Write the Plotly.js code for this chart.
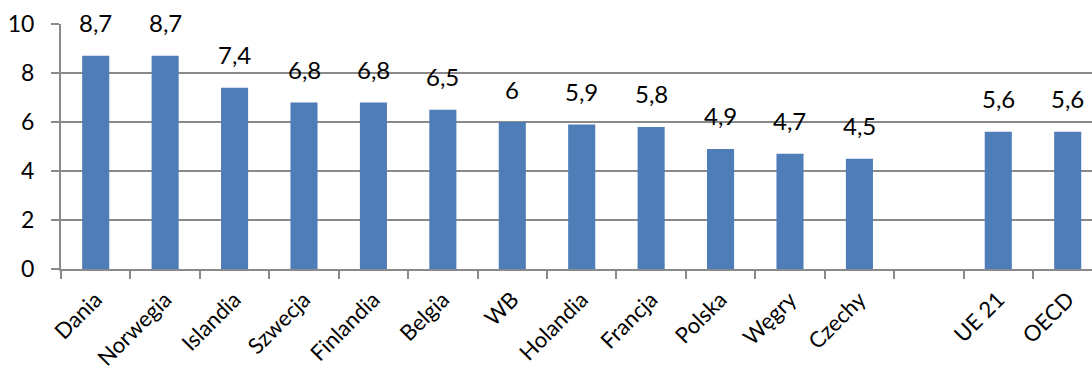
<!DOCTYPE html>
<html>
<head>
<meta charset="utf-8">
<script src="https://cdn.plot.ly/plotly-3.0.1.min.js"></script>
<style>
  html, body { margin: 0; padding: 0; background: #fff; }
  #chart { width: 1092px; height: 374px; }
</style>
</head>
<body>
<div id="chart"></div>
<script>
// Categories (a blank slot separates the countries from the averages)
const categories = ['Dania', 'Norwegia', 'Islandia', 'Szwecja', 'Finlandia', 'Belgia', 'WB',
  'Holandia', 'Francja', 'Polska', 'Węgry', 'Czechy', ' ', 'UE 21', 'OECD'];
const values = [8.7, 8.7, 7.4, 6.8, 6.8, 6.5, 6, 5.9, 5.8, 4.9, 4.7, 4.5, null, 5.6, 5.6];
const yTicks = [0, 2, 4, 6, 8, 10];

const FONT = 'Lato, Carlito, Calibri, "Open Sans", sans-serif';
const GREY = '#8a8a8a';

// Value labels, written with a decimal comma, floated above each bar
const valueLabels = [];
categories.forEach((c, i) => {
  const v = values[i];
  if (v === null) return;
  valueLabels.push({
    x: c, y: v, xref: 'x', yref: 'y',
    text: String(v).replace('.', ','),
    showarrow: false,
    yanchor: 'middle',
    yshift: 33,
    font: { family: FONT, size: 24, color: '#000' }
  });
});

const trace = {
  type: 'bar',
  x: categories,
  y: values,
  marker: { color: '#4F7DB8', line: { width: 0 } },
  width: 0.39,
  hoverinfo: 'x+y'
};

const layout = {
  width: 1092,
  height: 374,
  margin: { l: 61, r: 0, t: 24, b: 105 },
  paper_bgcolor: '#fff',
  plot_bgcolor: '#fff',
  showlegend: false,
  font: { family: FONT, size: 23, color: '#000' },
  annotations: valueLabels,
  xaxis: {
    type: 'category',
    categoryorder: 'array',
    categoryarray: categories,
    range: [-0.5, 14.35],
    tickson: 'boundaries',
    ticks: 'outside',
    ticklen: 8,
    tickwidth: 2,
    tickcolor: GREY,
    tickangle: -45,
    ticklabelstandoff: 7,
    tickfont: { family: FONT, size: 22, color: '#000' },
    showgrid: false,
    showline: true,
    linecolor: GREY,
    linewidth: 2,
    zeroline: false,
    fixedrange: true
  },
  yaxis: {
    range: [0, 10],
    tickvals: yTicks,
    ticks: 'outside',
    ticklen: 8,
    tickwidth: 2,
    tickcolor: GREY,
    ticklabelstandoff: 12,
    tickfont: { family: FONT, size: 23, color: '#000' },
    showgrid: true,
    gridcolor: GREY,
    gridwidth: 2,
    showline: true,
    linecolor: GREY,
    linewidth: 2,
    zeroline: false,
    fixedrange: true
  }
};

Plotly.newPlot('chart', [trace], layout, { displayModeBar: false, staticPlot: true });
</script>
</body>
</html>
